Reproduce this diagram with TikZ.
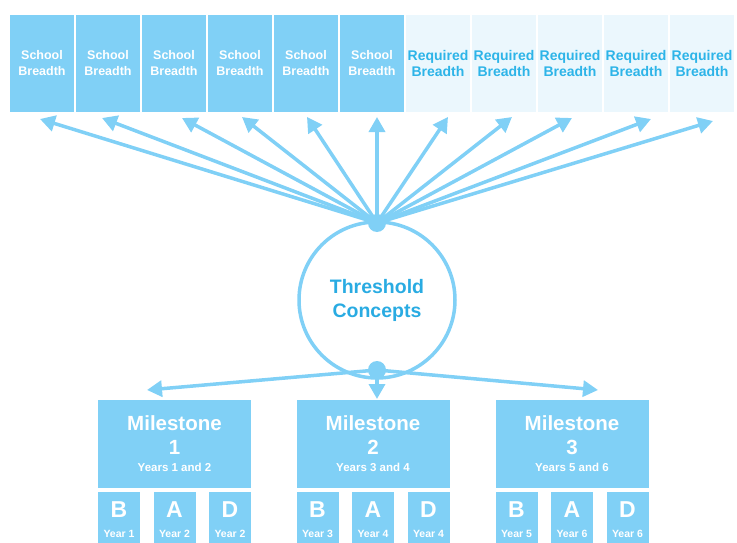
\documentclass[tikz,border=0pt]{standalone}
\usepackage{fontspec}
\setmainfont{Liberation Sans}
\usetikzlibrary{arrows.meta,calc}
\definecolor{boxblue}{RGB}{128,208,246}
\definecolor{reqfill}{RGB}{235,247,253}
\definecolor{reqtext}{RGB}{45,180,232}
\definecolor{thtext}{RGB}{41,171,226}
\tikzset{
  schoolbox/.style={fill=boxblue, draw=none, minimum width=64pt, minimum height=97pt, inner sep=0pt, text=white, font=\bfseries\fontsize{12.5}{16}\selectfont, align=center},
  reqbox/.style={fill=reqfill, draw=none, minimum width=64pt, minimum height=97pt, inner sep=0pt, text=reqtext, font=\bfseries\fontsize{14}{16}\selectfont, align=center},
  milebox/.style={fill=boxblue, draw=none, minimum width=153pt, minimum height=88pt, inner sep=0pt},
  subbox/.style={fill=boxblue, draw=none, minimum width=42pt, minimum height=51pt, inner sep=0pt},
  miletitle/.style={text=white, font=\bfseries\fontsize{20.5}{22}\selectfont, inner sep=0pt},
  mileyears/.style={text=white, font=\bfseries\fontsize{11.5}{12}\selectfont, inner sep=0pt},
  subletter/.style={text=white, font=\bfseries\fontsize{23}{24}\selectfont, inner sep=0pt},
  subyear/.style={text=white, font=\bfseries\fontsize{10.5}{12}\selectfont, inner sep=0pt},
  conn/.style={draw=boxblue, line width=3.5pt, -{Triangle[length=15pt,width=16pt]}},
  hub/.style={circle, fill=boxblue, draw=none, minimum size=18pt, inner sep=0pt},
}
\begin{document}
\begin{tikzpicture}[x=1pt,y=-1pt]
\useasboundingbox (0,0) rectangle (737,543);
% top boxes
\foreach \i in {0,...,5}{
  \node[schoolbox] (b\i) at ({42+66*\i},63.5) {School\\Breadth};
}
\foreach \i in {6,...,10}{
  \node[reqbox] (b\i) at ({42+66*\i},63.5) {Required\\Breadth};
}
% threshold circle
\node[circle, draw=boxblue, line width=3.5pt, minimum size=156pt, inner sep=0pt,
      text=thtext, font=\bfseries\fontsize{19.5}{24}\selectfont, align=center] (tc) at (377,300) {Threshold\\Concepts};
\node[hub] (top) at (377,223) {};
\node[hub] (bot) at (377,370) {};
% arrow end coordinates
\coordinate (e0) at (40,119);
\coordinate (e1) at (102,118);
\coordinate (e2) at (182,118);
\coordinate (e3) at (242,117);
\coordinate (e4) at (307,117);
\coordinate (e5) at (377,117);
\coordinate (e6) at (448,117);
\coordinate (e7) at (512,117);
\coordinate (e8) at (572,118);
\coordinate (e9) at (651,119);
\coordinate (e10) at (713,121);
\foreach \i in {0,...,10}{
  \draw[conn] (top.center) -- (e\i);
}
% milestone boxes
\node[milebox] (m1) at (174.5,444) {};
\node[milebox] (m2) at (373,444) {};
\node[milebox] (m3) at (572,444) {};
\coordinate (l1) at (147,390);
\coordinate (l2) at (377,399);
\coordinate (l3) at (598,390);
\draw[conn] (bot.center) -- (l1);
\draw[conn] (bot.center) -- (l2);
\draw[conn] (bot.center) -- (l3);
\foreach \m/\x/\n/\ya/\yb in {1/174.5/1/1/2, 2/373/2/3/4, 3/572/3/5/6}{
  \node[miletitle] (mt\m) at (\x,423) {Milestone};
  \node[miletitle] (mn\m) at (\x,447) {\n};
  \node[mileyears] (my\m) at (\x,467) {Years \ya{} and \yb};
  \node[subbox] (sb\m) at ($(\x,517.5)+(-55.5,0)$) {};
  \node[subbox] (sa\m) at (\x,517.5) {};
  \node[subbox] (sd\m) at ($(\x,517.5)+(55.5,0)$) {};
  \node[subletter] (lb\m) at ($(sb\m.center)+(0,-7.5)$) {B};
  \node[subletter] (la\m) at ($(sa\m.center)+(0,-7.5)$) {A};
  \node[subletter] (ld\m) at ($(sd\m.center)+(0,-7.5)$) {D};
  \node[subyear] (yb\m) at ($(sb\m.center)+(0,16.5)$) {Year \ya};
  \node[subyear] (ya\m) at ($(sa\m.center)+(0,16.5)$) {Year \yb};
  \node[subyear] (yd\m) at ($(sd\m.center)+(0,16.5)$) {Year \yb};
}
\end{tikzpicture}
\end{document}
